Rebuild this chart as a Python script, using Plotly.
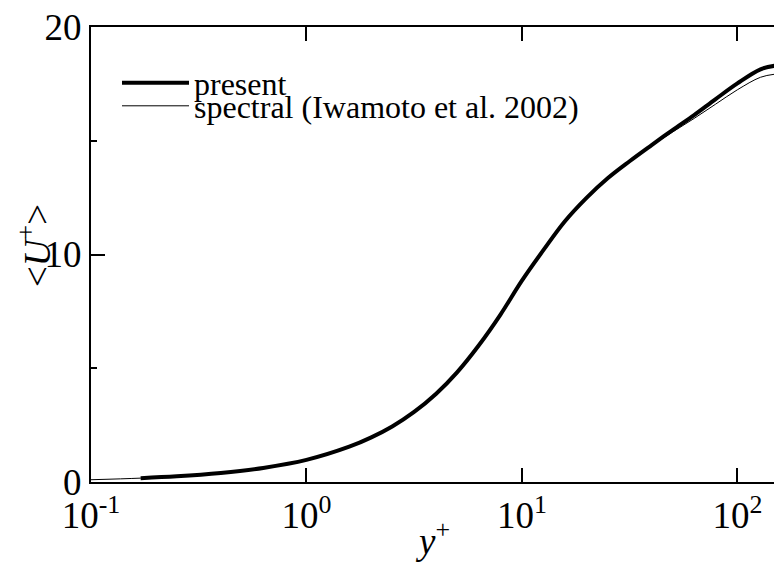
import plotly.graph_objects as go

# ---- data ----
yplus_present = [0.17, 0.25, 0.4, 0.63, 1.0, 1.58, 2.0, 2.5, 3.16, 4.0, 5.0, 6.3, 7.94, 10.0,
                 12.6, 15.8, 20.0, 25.0, 31.6, 40.0, 50.0, 63.0, 79.0, 100.0, 128.0, 150.0]
U_present = [0.17, 0.25, 0.4, 0.62, 0.97, 1.55, 1.96, 2.44, 3.08, 3.88, 4.82, 6.0, 7.35, 8.85,
             10.2, 11.45, 12.5, 13.35, 14.1, 14.81, 15.47, 16.13, 16.82, 17.52, 18.14, 18.3]

yplus_spectral = [0.1, 0.17, 0.25, 0.4, 0.63, 1.0, 1.58, 2.0, 2.5, 3.16, 4.0, 5.0, 6.3, 7.94, 10.0,
                  12.6, 15.8, 20.0, 25.0, 31.6, 40.0, 50.0, 63.0, 79.0, 100.0, 128.0, 150.0]
U_spectral = [0.1, 0.17, 0.25, 0.4, 0.62, 0.97, 1.55, 1.96, 2.44, 3.08, 3.88, 4.82, 6.0, 7.35, 8.85,
              10.2, 11.45, 12.5, 13.35, 14.1, 14.78, 15.38, 15.98, 16.6, 17.24, 17.79, 17.93]

x_tickvals = [0.1, 1, 10, 100]
x_ticktext = ["10<sup>-1</sup>", "10<sup>0</sup>", "10<sup>1</sup>", "10<sup>2</sup>"]
y_tickvals = [0, 10, 20]
y_minor = [5, 15]
y2_tickvals = [2.5, 7.5, 12.5, 17.5]
y2_minor = [5, 10, 15]

FONT = "Liberation Serif, Times New Roman, serif"

fig = go.Figure()
fig.add_trace(go.Scatter(x=yplus_present, y=U_present, mode="lines", name="present",
                         line=dict(color="black", width=4, shape="spline"), legend="legend"))
fig.add_trace(go.Scatter(x=yplus_spectral, y=U_spectral, mode="lines",
                         name="spectral (Iwamoto et al. 2002)",
                         line=dict(color="black", width=1, shape="spline"), legend="legend2"))

W, H = 774, 564
L, R, T, B = 91, 0, 27, 82
PW, PH = W - L - R, H - T - B

def px_x(p):
    return (p - L) / PW

def px_y(p):
    return 1 - (p - T) / PH

fig.update_layout(
    width=W, height=H,
    margin=dict(l=L, r=R, t=T, b=B, autoexpand=False),
    paper_bgcolor="white", plot_bgcolor="white",
    font=dict(family=FONT, color="black", size=37),
    legend=dict(x=px_x(117), y=px_y(83), xanchor="left", yanchor="middle",
                font=dict(size=32, family=FONT), bgcolor="rgba(0,0,0,0)", itemwidth=67,
                tracegroupgap=0),
    legend2=dict(x=px_x(117), y=px_y(106), xanchor="left", yanchor="middle",
                 font=dict(size=32, family=FONT), bgcolor="rgba(0,0,0,0)", itemwidth=67,
                 tracegroupgap=0),
    xaxis=dict(type="log", range=[-1, 2.17], tickmode="array", tickvals=x_tickvals,
               ticktext=x_ticktext, ticks="inside", ticklen=14, tickwidth=1.5, tickcolor="black",
               showline=True, linewidth=2, linecolor="black", mirror="ticks",
               showgrid=False, zeroline=False, tickfont=dict(size=37, family=FONT),
               automargin=False),
    yaxis=dict(range=[0, 20], tickmode="array", tickvals=y_tickvals, ticks="inside",
               ticklen=14, tickwidth=1.5, tickcolor="black",
               minor=dict(tickmode="array", tickvals=y_minor, ticks="inside", ticklen=6,
                          tickwidth=1.5, tickcolor="black", showgrid=False),
               showline=True, linewidth=2, linecolor="black", mirror=False,
               showgrid=False, zeroline=False, tickfont=dict(size=37, family=FONT),
               automargin=False),
    yaxis2=dict(range=[0, 20], overlaying="y", side="right", tickmode="array",
                tickvals=y2_tickvals, ticks="inside", ticklen=13, tickwidth=1.5, tickcolor="black",
                minor=dict(tickmode="array", tickvals=y2_minor, ticks="inside", ticklen=6,
                           tickwidth=1.5, tickcolor="black", showgrid=False),
                showticklabels=False, showline=False, showgrid=False, zeroline=False,
                automargin=False),
    annotations=[
        dict(text="<i>y</i><sup>+</sup>", xref="paper", yref="paper",
             x=px_x(432), y=px_y(538), xanchor="center", yanchor="middle",
             showarrow=False, font=dict(size=37, family=FONT)),
        dict(text="&lt;<i>U</i><sup>+</sup>&gt;", xref="paper", yref="paper",
             x=px_x(34), y=px_y(246), xanchor="center", yanchor="middle", textangle=-90,
             showarrow=False, font=dict(size=37, family=FONT)),
    ],
    showlegend=True,
)

fig.write_html("out.html", config={"displayModeBar": False})

# remove the default page margin so the figure fills the window exactly
with open("out.html", "r", encoding="utf-8") as f:
    html = f.read()
html = html.replace("<body>", '<body style="margin:0;padding:0;overflow:hidden;">', 1)
with open("out.html", "w", encoding="utf-8") as f:
    f.write(html)
